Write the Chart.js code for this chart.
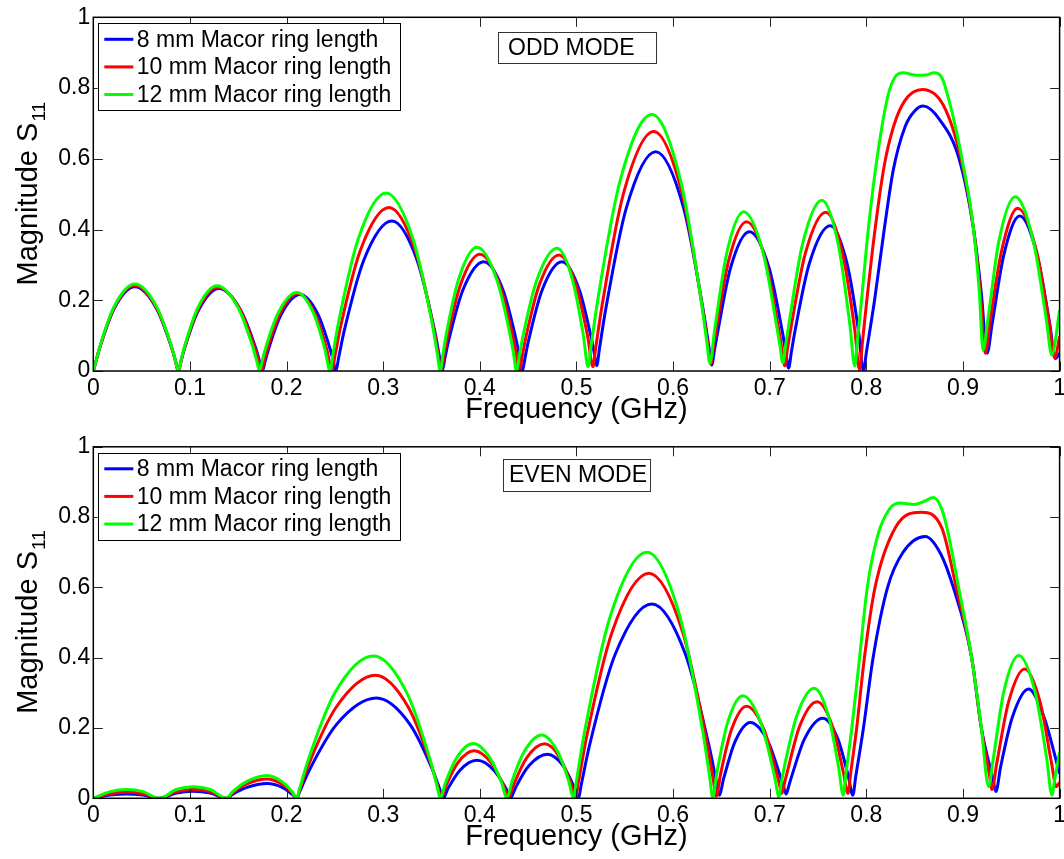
<!DOCTYPE html>
<html><head><meta charset="utf-8">
<script src="https://cdn.jsdelivr.net/npm/chart.js@4.4.1/dist/chart.umd.min.js"></script>
<style>
html,body{margin:0;padding:0;background:#fff;overflow:hidden;width:1064px;height:859px;position:relative;}
#c1{position:absolute;left:0;top:0;}
#c2{position:absolute;left:0;top:430px;}
</style></head><body>
<canvas id="c1" width="1085" height="430"></canvas>
<canvas id="c2" width="1085" height="429"></canvas>
<script>
const seriesLabels = ['8 mm Macor ring length', '10 mm Macor ring length', '12 mm Macor ring length'];
const seriesColors = ['#0000ff', '#ff0000', '#00ff00'];
const xTickLabels = ['0', '0.1', '0.2', '0.3', '0.4', '0.5', '0.6', '0.7', '0.8', '0.9', '1'];
const yTickLabels = ['0', '0.2', '0.4', '0.6', '0.8', '1'];
const xTitle = 'Frequency (GHz)';
const yTitleMain = 'Magnitude S';
const yTitleSub = '11';
const modeTexts = ['ODD MODE', 'EVEN MODE'];

// ---- ODD MODE (top) ----
const oddFreq8 = [0, 0.003, 0.0065, 0.0215, 0.043, 0.0655, 0.0813, 0.085, 0.088,
  0.091, 0.0943, 0.109, 0.130, 0.1525, 0.1683, 0.172, 0.175,
  0.178, 0.1809, 0.1945, 0.214, 0.2325, 0.2455, 0.248, 0.251,
  0.254, 0.2597, 0.280, 0.309, 0.335, 0.3532, 0.358, 0.361,
  0.364, 0.3675, 0.3825, 0.404, 0.424, 0.438, 0.441, 0.444,
  0.447, 0.4502, 0.4645, 0.485, 0.503, 0.5156, 0.518, 0.521,
  0.524, 0.530, 0.5515, 0.582, 0.611, 0.6313, 0.637, 0.640,
  0.643, 0.6459, 0.6595, 0.679, 0.6993, 0.7134, 0.7165, 0.7195,
  0.7225, 0.726, 0.741, 0.7626, 0.780, 0.792, 0.797,
  0.800, 0.8085, 0.8185, 0.828, 0.840, 0.850, 0.859, 0.876, 0.896, 0.911, 0.919, 0.925,
  0.930, 0.942, 0.9587, 0.977, 0.990, 0.9955, 1.0];
const oddMag8 = [0, 0.03, 0.064, 0.176, 0.238, 0.176, 0.064, 0.029, 0,
  0.030, 0.063, 0.172, 0.233, 0.172, 0.063, 0.028, 0,
  0.0295, 0.058, 0.160, 0.216, 0.160, 0.058, 0.032, 0,
  0.039, 0.114, 0.314, 0.424, 0.314, 0.114, 0.044, 0,
  0.038, 0.083, 0.229, 0.309, 0.229, 0.083, 0.0415, 0,
  0.040, 0.083, 0.229, 0.309, 0.229, 0.09, 0.057, 0.015,
  0.067, 0.17, 0.46, 0.620, 0.46, 0.17, 0.07, 0.017,
  0.062, 0.106, 0.292, 0.394, 0.292, 0.106, 0.056, 0.008,
  0.055, 0.111, 0.304, 0.411, 0.304, 0.111, 0,
  0.052, 0.2, 0.4, 0.57, 0.69, 0.735, 0.749, 0.71, 0.6, 0.4, 0.22, 0.05,
  0.13, 0.325, 0.438, 0.325, 0.13, 0.035, 0.05];

const oddFreq10 = [0, 0.003, 0.0065, 0.0215, 0.043, 0.0655, 0.0813, 0.085, 0.088,
  0.091, 0.0942, 0.1085, 0.129, 0.1515, 0.1673, 0.171, 0.174,
  0.177, 0.1797, 0.193, 0.212, 0.2295, 0.2418, 0.247,
  0.250, 0.2559, 0.2765, 0.306, 0.333, 0.3519, 0.357, 0.360,
  0.363, 0.366, 0.380, 0.400, 0.4205, 0.4349, 0.438, 0.441,
  0.444, 0.4472, 0.4615, 0.482, 0.4995, 0.5118, 0.517,
  0.520, 0.5265, 0.5485, 0.580, 0.6095, 0.630, 0.636, 0.639,
  0.642, 0.6445, 0.6575, 0.676, 0.6958, 0.7096, 0.7125, 0.7155,
  0.7185, 0.7219, 0.7368, 0.758, 0.7755, 0.7878, 0.793,
  0.796, 0.8005, 0.809, 0.8185, 0.828, 0.840, 0.858, 0.880, 0.898, 0.911, 0.918, 0.923,
  0.928, 0.940, 0.9566, 0.976, 0.989, 0.995, 1.0];
const oddMag10 = [0, 0.03, 0.065, 0.179, 0.242, 0.179, 0.065, 0.029, 0,
  0.031, 0.064, 0.175, 0.237, 0.175, 0.064, 0.029, 0,
  0.031, 0.059, 0.162, 0.219, 0.162, 0.059, 0,
  0.042, 0.125, 0.342, 0.462, 0.342, 0.125, 0.046, 0,
  0.0445, 0.089, 0.244, 0.330, 0.244, 0.089, 0.044, 0,
  0.043, 0.089, 0.243, 0.328, 0.243, 0.095, 0.012,
  0.067, 0.185, 0.50, 0.677, 0.50, 0.185, 0.075, 0.02,
  0.071, 0.114, 0.312, 0.422, 0.312, 0.114, 0.065, 0.015,
  0.065, 0.121, 0.332, 0.449, 0.332, 0.121, 0.003,
  0.082, 0.2, 0.4, 0.58, 0.69, 0.765, 0.796, 0.75, 0.6, 0.4, 0.22, 0.05,
  0.14, 0.34, 0.46, 0.34, 0.14, 0.037, 0.097];

const oddFreq12 = [0, 0.003, 0.0065, 0.0215, 0.043, 0.0655, 0.0813, 0.085, 0.088,
  0.091, 0.094, 0.108, 0.128, 0.150, 0.1654, 0.169, 0.172,
  0.175, 0.1778, 0.1913, 0.2105, 0.2278, 0.2398, 0.245,
  0.248, 0.2537, 0.274, 0.303, 0.331, 0.3506, 0.356, 0.359,
  0.362, 0.3647, 0.378, 0.397, 0.4175, 0.4319, 0.435, 0.438,
  0.441, 0.4443, 0.459, 0.480, 0.496, 0.5072, 0.512,
  0.515, 0.522, 0.545, 0.578, 0.608, 0.629, 0.635, 0.638,
  0.6433, 0.6555, 0.673, 0.6933, 0.7075, 0.7106, 0.7136,
  0.7166, 0.7197, 0.7338, 0.754, 0.771, 0.783, 0.788,
  0.791, 0.795, 0.802, 0.811, 0.8225, 0.830, 0.838, 0.852, 0.862, 0.870, 0.878, 0.887, 0.899, 0.911, 0.917, 0.9207,
  0.926, 0.937, 0.954, 0.973, 0.986, 0.992, 1.0];
const oddMag12 = [0, 0.03, 0.066, 0.182, 0.246, 0.182, 0.066, 0.0296, 0,
  0.0325, 0.065, 0.178, 0.241, 0.178, 0.065, 0.0295, 0,
  0.031, 0.060, 0.164, 0.222, 0.164, 0.060, 0,
  0.047, 0.136, 0.372, 0.503, 0.372, 0.136, 0.0486, 0,
  0.05, 0.095, 0.259, 0.350, 0.259, 0.095, 0.0467, 0,
  0.0448, 0.094, 0.257, 0.347, 0.257, 0.10, 0.012,
  0.068, 0.20, 0.536, 0.725, 0.536, 0.20, 0.081, 0.022,
  0.122, 0.333, 0.450, 0.333, 0.122, 0.072, 0.023,
  0.075, 0.13, 0.357, 0.483, 0.357, 0.13, 0.014,
  0.094, 0.2, 0.4, 0.6, 0.78, 0.832, 0.843, 0.836, 0.837, 0.843, 0.83, 0.75, 0.6, 0.4, 0.22, 0.059,
  0.15, 0.365, 0.493, 0.365, 0.15, 0.045, 0.172];

// ---- EVEN MODE (bottom) ----
const evenFreq8 = [0, 0.0175, 0.035, 0.0515, 0.068,
  0.086, 0.1035, 0.121, 0.138,
  0.144, 0.159, 0.18, 0.1955, 0.206, 0.2105,
  0.2135, 0.223, 0.252, 0.293, 0.3275, 0.3517, 0.359, 0.362,
  0.3673, 0.3795, 0.397, 0.4145, 0.4268, 0.432,
  0.435, 0.4377, 0.451, 0.47, 0.486, 0.4972, 0.502,
  0.505, 0.5134, 0.540, 0.578, 0.6129, 0.6372, 0.6447, 0.6477,
  0.6525, 0.6639, 0.68, 0.6985, 0.7115, 0.714, 0.717,
  0.720, 0.7227, 0.736, 0.755, 0.7705, 0.7814, 0.786,
  0.789, 0.797, 0.807, 0.822, 0.838, 0.861, 0.877, 0.890, 0.909, 0.919, 0.931, 0.934,
  0.939, 0.951, 0.968, 0.984, 1.0];
const evenMag8 = [0, 0.009, 0.012, 0.009, 0,
  0.015, 0.02, 0.015, 0,
  0.011, 0.031, 0.042, 0.031, 0.011, 0,
  0.0185, 0.077, 0.211, 0.285, 0.211, 0.077, 0.0224, 0,
  0.029, 0.08, 0.108, 0.08, 0.029, 0,
  0.0179, 0.034, 0.093, 0.125, 0.093, 0.034, 0,
  0.039, 0.149, 0.409, 0.553, 0.409, 0.149, 0.049, 0.009,
  0.058, 0.16, 0.216, 0.16, 0.058, 0.037, 0.012,
  0.038, 0.062, 0.169, 0.228, 0.169, 0.062, 0.009,
  0.061, 0.2, 0.4, 0.6, 0.70, 0.745, 0.695, 0.6, 0.4, 0.2, 0.055, 0.019,
  0.09, 0.23, 0.311, 0.23, 0.07];

const evenFreq10 = [0, 0.0175, 0.035, 0.0515, 0.068,
  0.086, 0.1035, 0.121, 0.138,
  0.144, 0.159, 0.1795, 0.195, 0.206, 0.2105,
  0.2135, 0.2227, 0.2513, 0.292, 0.326, 0.3498, 0.357, 0.360,
  0.3651, 0.377, 0.394, 0.412, 0.4246, 0.430,
  0.433, 0.4356, 0.4485, 0.467, 0.483, 0.4942, 0.499,
  0.502, 0.5104, 0.537, 0.575, 0.6098, 0.634, 0.6416, 0.6446,
  0.6493, 0.6603, 0.676, 0.6943, 0.7071, 0.7096, 0.7126,
  0.7156, 0.7181, 0.7308, 0.749, 0.765, 0.7762, 0.781,
  0.784, 0.790, 0.798, 0.809, 0.830, 0.857, 0.878, 0.893, 0.909, 0.919, 0.927, 0.930,
  0.935, 0.947, 0.9638, 0.980, 0.9917, 0.9966, 1.0];
const evenMag10 = [0, 0.013, 0.018, 0.013, 0,
  0.019, 0.026, 0.019, 0,
  0.015, 0.041, 0.055, 0.041, 0.015, 0,
  0.0234, 0.095, 0.259, 0.35, 0.259, 0.095, 0.028, 0,
  0.036, 0.10, 0.135, 0.10, 0.036, 0,
  0.0225, 0.042, 0.115, 0.155, 0.115, 0.042, 0,
  0.0455, 0.173, 0.474, 0.64, 0.474, 0.173, 0.053, 0.006,
  0.071, 0.194, 0.262, 0.194, 0.071, 0.045, 0.014,
  0.047, 0.074, 0.204, 0.275, 0.204, 0.074, 0.014,
  0.076, 0.2, 0.4, 0.6, 0.77, 0.814, 0.77, 0.6, 0.4, 0.2, 0.073, 0.025,
  0.10, 0.272, 0.368, 0.272, 0.10, 0.033, 0.045];

const evenFreq12 = [0, 0.0175, 0.035, 0.0515, 0.068,
  0.086, 0.1035, 0.121, 0.138,
  0.144, 0.159, 0.1795, 0.195, 0.206, 0.2105,
  0.2135, 0.2224, 0.250, 0.290, 0.3245, 0.3487, 0.356, 0.359,
  0.3641, 0.376, 0.393, 0.4105, 0.4228, 0.428,
  0.4334, 0.446, 0.464, 0.4805, 0.492, 0.497,
  0.500, 0.5084, 0.535, 0.573, 0.607, 0.6308, 0.638, 0.641,
  0.6457, 0.6565, 0.672, 0.6907, 0.7037, 0.7063, 0.7093,
  0.7123, 0.7148, 0.7277, 0.746, 0.761, 0.7715, 0.776,
  0.779, 0.785, 0.793, 0.801, 0.812, 0.8245, 0.835, 0.849, 0.860, 0.8696, 0.877, 0.8834, 0.8955, 0.909, 0.919, 0.9265,
  0.9312, 0.942, 0.9576, 0.9748, 0.9868, 0.992, 0.995, 1.0];
const evenMag12 = [0, 0.019, 0.025, 0.019, 0,
  0.025, 0.033, 0.025, 0,
  0.018, 0.048, 0.065, 0.048, 0.018, 0,
  0.0275, 0.109, 0.30, 0.405, 0.30, 0.109, 0.032, 0,
  0.042, 0.115, 0.156, 0.115, 0.042, 0,
  0.049, 0.133, 0.18, 0.133, 0.049, 0,
  0.05, 0.189, 0.518, 0.70, 0.518, 0.189, 0.058, 0.003,
  0.079, 0.216, 0.292, 0.216, 0.079, 0.044, 0.003,
  0.048, 0.085, 0.232, 0.313, 0.232, 0.085, 0.009,
  0.073, 0.2, 0.4, 0.6, 0.75, 0.825, 0.840, 0.836, 0.845, 0.856, 0.83, 0.77, 0.6, 0.4, 0.2, 0.033,
  0.11, 0.30, 0.406, 0.30, 0.11, 0.009, 0.055, 0.132];

const FONT = '"Liberation Sans", Arial, Helvetica, sans-serif';
Chart.defaults.font.family = FONT;
Chart.defaults.color = '#000';

function pts(fx, my) {
  if (fx.length !== my.length) console.error('length mismatch', fx.length, my.length);
  return fx.map((f, i) => ({ x: f, y: my[i] }));
}

const decor = {
  id: 'decor',
  afterDraw(chart, args, o) {
    const { ctx, chartArea: a } = chart;
    const xs = chart.scales.x, ys = chart.scales.y;
    ctx.save();
    // inward ticks on all four sides
    ctx.strokeStyle = '#262626'; ctx.lineWidth = 1;
    ctx.beginPath();
    xs.ticks.forEach(t => {
      const p = Math.round(xs.getPixelForValue(t.value)) + 0.5;
      ctx.moveTo(p, a.bottom); ctx.lineTo(p, a.bottom - 9.5);
      ctx.moveTo(p, a.top); ctx.lineTo(p, a.top + 9.5);
    });
    ys.ticks.forEach(t => {
      const p = Math.round(ys.getPixelForValue(t.value)) + 0.5;
      ctx.moveTo(a.left, p); ctx.lineTo(a.left + 9.5, p);
      ctx.moveTo(a.right, p); ctx.lineTo(a.right - 9.5, p);
    });
    ctx.stroke();
    // box frame
    ctx.strokeStyle = '#000'; ctx.lineWidth = 1.5;
    ctx.strokeRect(a.left, a.top, a.right - a.left, a.bottom - a.top);
    // legend
    const L = o.legend;
    const bx = a.left + L.dx, by = a.top + L.dy;
    ctx.fillStyle = '#fff'; ctx.fillRect(bx, by, L.w, L.h);
    ctx.lineWidth = 1; ctx.strokeStyle = '#000';
    ctx.strokeRect(Math.round(bx) + 0.5, Math.round(by) + 0.5, L.w, L.h);
    ctx.font = '23px ' + FONT; ctx.textBaseline = 'middle'; ctx.textAlign = 'left';
    chart.data.datasets.forEach((d, i) => {
      const ly = by + L.row0 + i * L.rowGap;
      ctx.strokeStyle = d.borderColor; ctx.lineWidth = 3;
      ctx.beginPath(); ctx.moveTo(bx + L.lx0, ly); ctx.lineTo(bx + L.lx1, ly); ctx.stroke();
      ctx.fillStyle = '#000'; ctx.fillText(d.label, bx + L.tx, ly + 1);
    });
    // mode text box
    const M = o.mode;
    const mx = a.left + M.dx, my = a.top + M.dy;
    ctx.fillStyle = '#fff'; ctx.fillRect(mx, my, M.w, M.h);
    ctx.strokeStyle = '#333'; ctx.lineWidth = 1;
    ctx.strokeRect(Math.round(mx) + 0.5, Math.round(my) + 0.5, M.w, M.h);
    ctx.fillStyle = '#000'; ctx.font = '23px ' + FONT; ctx.textBaseline = 'middle';
    ctx.fillText(M.text, mx + M.tx, my + M.h / 2 + 1);
    // x axis title
    ctx.font = '29px ' + FONT; ctx.textAlign = 'center'; ctx.textBaseline = 'alphabetic';
    ctx.fillText(xTitle, (a.left + a.right) / 2, a.bottom + 47);
    // y axis title with subscript
    ctx.translate(37, (a.top + a.bottom) / 2);
    ctx.rotate(-Math.PI / 2);
    ctx.font = '29px ' + FONT;
    const w1 = ctx.measureText(yTitleMain).width;
    ctx.font = '19px ' + FONT;
    const w2 = ctx.measureText(yTitleSub).width;
    const start = -(w1 + w2) / 2;
    ctx.textAlign = 'left';
    ctx.font = '29px ' + FONT;
    ctx.fillText(yTitleMain, start, 0);
    ctx.font = '19px ' + FONT;
    ctx.fillText(yTitleSub, start + w1 + 1, 8);
    ctx.restore();
  }
};

function makeChart(id, freqs, mags, cfg) {
  const datasets = freqs.map((f, i) => ({
    label: seriesLabels[i],
    data: pts(f, mags[i]),
    borderColor: seriesColors[i],
    backgroundColor: seriesColors[i],
    borderWidth: 3,
    pointRadius: 0,
    fill: false,
    cubicInterpolationMode: 'monotone',
    clip: 0,
    order: 2 - i
  }));
  return new Chart(document.getElementById(id), {
    type: 'line',
    data: { datasets },
    options: {
      responsive: false, animation: false, devicePixelRatio: 1, events: [],
      layout: { padding: { left: 0, top: cfg.top, right: cfg.right, bottom: 0 } },
      plugins: {
        legend: { display: false }, tooltip: { enabled: false }, title: { display: false },
        decor: { legend: cfg.legend, mode: cfg.mode }
      },
      scales: {
        x: {
          type: 'linear', min: 0, max: 1,
          grid: { display: false, drawTicks: false }, border: { display: false },
          ticks: { stepSize: 0.1, autoSkip: false, maxRotation: 0, padding: 4,
            font: { size: 23 }, color: '#000',
            callback: v => xTickLabels[Math.round(v * 10)] },
          afterFit: s => { s.height = cfg.xh; }
        },
        y: {
          type: 'linear', min: 0, max: 1,
          grid: { display: false, drawTicks: false }, border: { display: false },
          ticks: { stepSize: 0.2, autoSkip: false, padding: 3,
            font: { size: 23 }, color: '#000',
            callback: v => yTickLabels[Math.round(v * 5)] },
          afterFit: s => { s.width = 93.3; }
        }
      }
    },
    plugins: [decor]
  });
}

const legendCfg = { dx: 4.5, dy: 6, w: 302, h: 87, row0: 16, rowGap: 27.6, lx0: 6.5, lx1: 35.5, tx: 39 };

makeChart('c1', [oddFreq8, oddFreq10, oddFreq12], [oddMag8, oddMag10, oddMag12], {
  top: 17.3, right: 25.4, xh: 59,
  legend: legendCfg,
  mode: { text: modeTexts[0], dx: 404.7, dy: 14.4, w: 158, h: 31, tx: 10 }
});
makeChart('c2', [evenFreq8, evenFreq10, evenFreq12], [evenMag8, evenMag10, evenMag12], {
  top: 15, right: 25.4, xh: 60.7,
  legend: legendCfg,
  mode: { text: modeTexts[1], dx: 409.7, dy: 12, w: 147, h: 32, tx: 6 }
});
</script>
</body></html>
